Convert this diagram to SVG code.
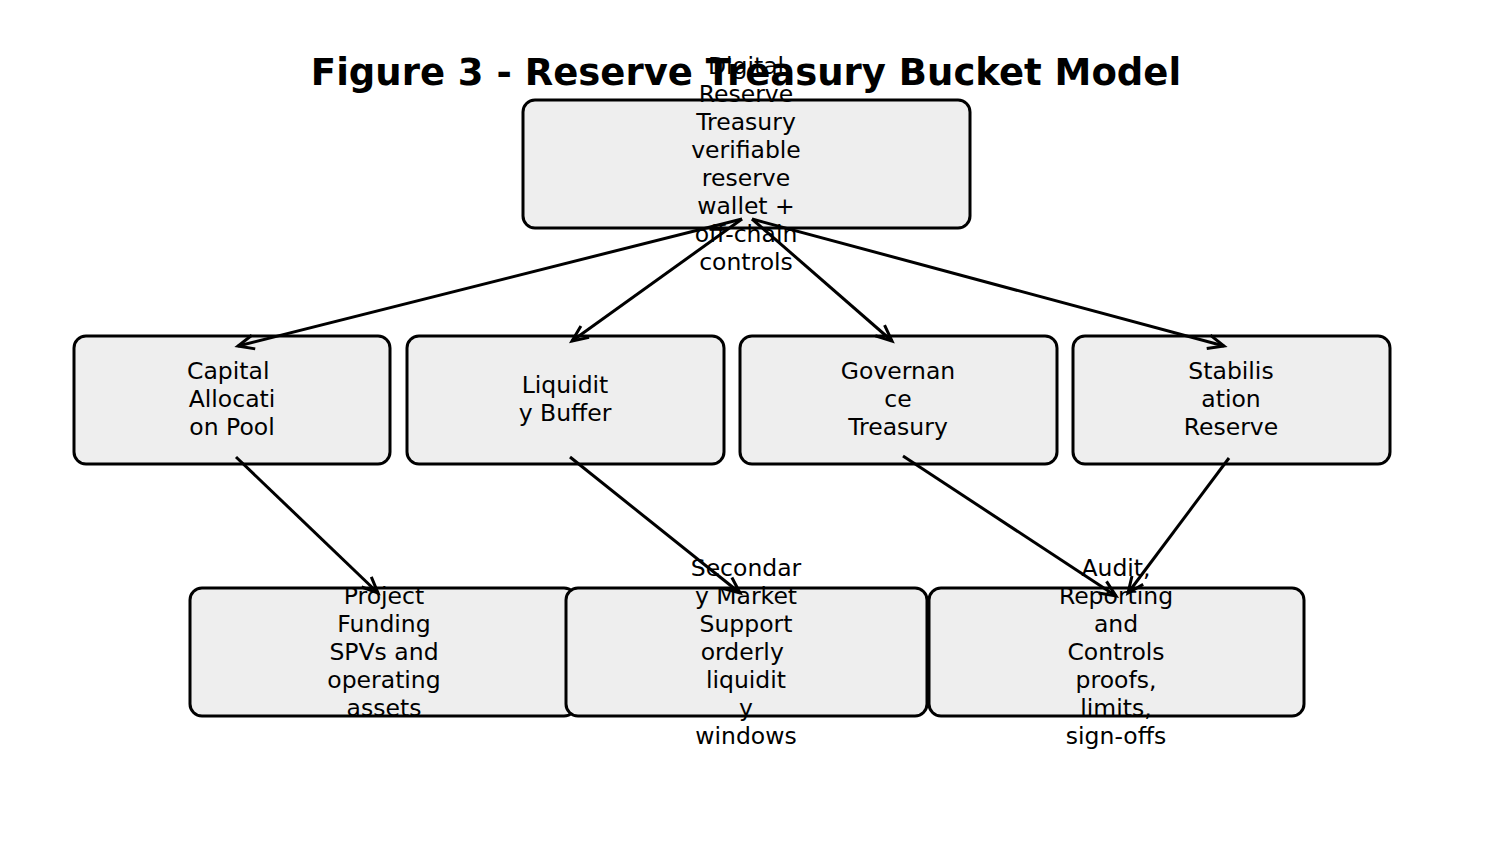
<svg xmlns="http://www.w3.org/2000/svg" width="1493" height="857" viewBox="0 0 1493 857">
<style>
.n{fill:#eeeeee;stroke:#000;stroke-width:3}
.t{font-family:"DejaVu Sans",sans-serif;font-size:23.5px;text-anchor:middle;fill:#000}
.c{stroke:#000;stroke-width:3;fill:none;marker-end:url(#a)}
</style>
<defs><marker id="a" viewBox="0 0 20 20" refX="18" refY="10" markerWidth="20" markerHeight="20" markerUnits="userSpaceOnUse" orient="auto" overflow="visible"><path d="M2,3 L18,10 L2,17" fill="none" stroke="#000" stroke-width="3"/></marker></defs>
<rect width="1493" height="857" fill="#fff"/>
<text x="746" y="85" style="font-family:'DejaVu Sans',sans-serif;font-size:37px;font-weight:bold;text-anchor:middle">Figure 3 - Reserve Treasury Bucket Model</text>
<g id="top"><rect class="n" x="523" y="100" width="447" height="128" rx="12"/>
<text class="t"><tspan x="746" y="74">Digital</tspan><tspan x="746" y="102">Reserve</tspan><tspan x="746" y="130">Treasury</tspan><tspan x="746" y="158">verifiable</tspan><tspan x="746" y="186">reserve</tspan><tspan x="746" y="214">wallet +</tspan><tspan x="746" y="242">off-chain</tspan><tspan x="746" y="270">controls</tspan></text></g>
<g id="cap"><rect class="n" x="74" y="336" width="316" height="128" rx="12"/>
<text class="t"><tspan x="232" y="379">Capital </tspan><tspan x="232" y="407">Allocati</tspan><tspan x="232" y="435">on Pool</tspan></text></g>
<g id="liq"><rect class="n" x="407" y="336" width="317" height="128" rx="12"/>
<text class="t"><tspan x="565" y="393">Liquidit</tspan><tspan x="565" y="421">y Buffer</tspan></text></g>
<g id="gov"><rect class="n" x="740" y="336" width="317" height="128" rx="12"/>
<text class="t"><tspan x="898" y="379">Governan</tspan><tspan x="898" y="407">ce</tspan><tspan x="898" y="435">Treasury</tspan></text></g>
<g id="stab"><rect class="n" x="1073" y="336" width="317" height="128" rx="12"/>
<text class="t"><tspan x="1231" y="379">Stabilis</tspan><tspan x="1231" y="407">ation</tspan><tspan x="1231" y="435">Reserve</tspan></text></g>
<g id="proj"><rect class="n" x="190" y="588" width="386" height="128" rx="12"/>
<text class="t"><tspan x="384" y="604">Project</tspan><tspan x="384" y="632">Funding</tspan><tspan x="384" y="660">SPVs and</tspan><tspan x="384" y="688">operating</tspan><tspan x="384" y="716">assets</tspan></text></g>
<g id="sec"><rect class="n" x="566" y="588" width="361" height="128" rx="12"/>
<text class="t"><tspan x="746" y="576">Secondar</tspan><tspan x="746" y="604">y Market</tspan><tspan x="746" y="632">Support</tspan><tspan x="746" y="660">orderly </tspan><tspan x="746" y="688">liquidit</tspan><tspan x="746" y="716">y</tspan><tspan x="746" y="744">windows</tspan></text></g>
<g id="aud"><rect class="n" x="929" y="588" width="375" height="128" rx="12"/>
<text class="t"><tspan x="1116" y="576">Audit,</tspan><tspan x="1116" y="604">Reporting</tspan><tspan x="1116" y="632">and</tspan><tspan x="1116" y="660">Controls</tspan><tspan x="1116" y="688">proofs,</tspan><tspan x="1116" y="716">limits,</tspan><tspan x="1116" y="744">sign-offs</tspan></text></g>
<g id="connectors">
<path class="c" d="M742,219 L238,346"/>
<path class="c" d="M742,219 L572,341"/>
<path class="c" d="M752,219 L892,341"/>
<path class="c" d="M752,219 L1224,346"/>
<path class="c" d="M236,457 L378,593"/>
<path class="c" d="M570,457 L740,593"/>
<path class="c" d="M903,456 L1116,596"/>
<path class="c" d="M1229,458 L1128,593"/>
</g>
</svg>
